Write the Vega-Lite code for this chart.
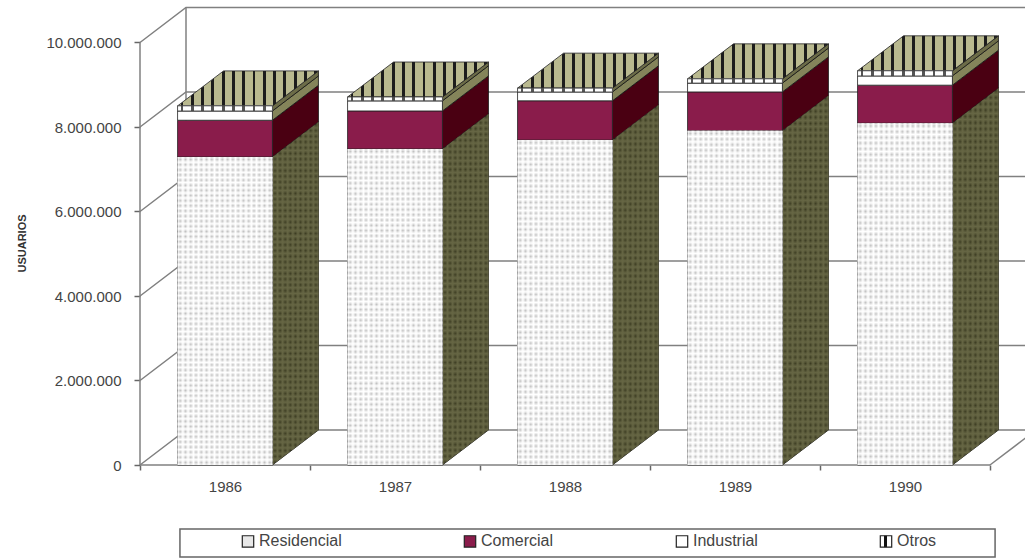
{
"$schema":"https://vega.github.io/schema/vega-lite/v6.json",
"width":885,"height":465,
"autosize":{"type":"none"},
"padding":{"left":140,"top":0,"right":0,"bottom":94},
"background":"#ffffff",
"config":{"view":{"stroke":null},"font":"Liberation Sans"},
"resolve":{"axis":{"x":"independent","y":"independent"}},
"datasets":{
"usuarios":[
{"anio":1986,"serie":"Residencial","orden":1,"usuarios":7290000},
{"anio":1986,"serie":"Comercial","orden":2,"usuarios":870000},
{"anio":1986,"serie":"Industrial","orden":3,"usuarios":220000},
{"anio":1986,"serie":"Otros","orden":4,"usuarios":120000},
{"anio":1987,"serie":"Residencial","orden":1,"usuarios":7480000},
{"anio":1987,"serie":"Comercial","orden":2,"usuarios":900000},
{"anio":1987,"serie":"Industrial","orden":3,"usuarios":240000},
{"anio":1987,"serie":"Otros","orden":4,"usuarios":90000},
{"anio":1988,"serie":"Residencial","orden":1,"usuarios":7690000},
{"anio":1988,"serie":"Comercial","orden":2,"usuarios":930000},
{"anio":1988,"serie":"Industrial","orden":3,"usuarios":210000},
{"anio":1988,"serie":"Otros","orden":4,"usuarios":90000},
{"anio":1989,"serie":"Residencial","orden":1,"usuarios":7910000},
{"anio":1989,"serie":"Comercial","orden":2,"usuarios":920000},
{"anio":1989,"serie":"Industrial","orden":3,"usuarios":210000},
{"anio":1989,"serie":"Otros","orden":4,"usuarios":100000},
{"anio":1990,"serie":"Residencial","orden":1,"usuarios":8090000},
{"anio":1990,"serie":"Comercial","orden":2,"usuarios":900000},
{"anio":1990,"serie":"Industrial","orden":3,"usuarios":220000},
{"anio":1990,"serie":"Otros","orden":4,"usuarios":120000}
],
"rejilla":[{"valor":0},{"valor":2000000},{"valor":4000000},{"valor":6000000},{"valor":8000000},{"valor":10000000}]
},
"layer":[
{"data":{"name":"rejilla"},
"transform":[
{"calculate":"[0,1,2]","as":"p"},{"flatten":["p"]},
{"calculate":"datum.p==0?1985.5:(datum.p==1?1985.7706:1990.7706)","as":"xg"},
{"calculate":"datum.valor+(datum.p>0?828000:0)","as":"yg"}],
"mark":{"type":"line","color":"#808080","strokeWidth":1.5,"clip":false},
"encoding":{
"x":{"field":"xg","type":"quantitative","scale":{"domain":[1985.5,1990.706],"nice":false,"zero":false},
"axis":{"values":[1985.5,1986,1986.5,1987,1987.5,1988,1988.5,1989,1989.5,1990,1990.5],"title":null,"domain":false,"grid":false,"tickSize":5,"tickColor":"#666666","tickWidth":1.5,
"tickOpacity":{"condition":{"test":"datum.value%1!=0","value":1},"value":0},
"labelExpr":"datum.value%1==0?format(datum.value,'d'):''","labelFont":"Liberation Sans","labelFontSize":15,"labelColor":"#444444","labelPadding":9,"labelOverlap":false,"labelFlush":false}},
"y":{"field":"yg","type":"quantitative","scale":{"domain":[0,11005917],"nice":false,"zero":false},
"axis":{"values":[0,2000000,4000000,6000000,8000000,10000000],"title":"USUARIOS","titleFont":"Liberation Sans","titleFontSize":11,"titleFontWeight":"bold","titleColor":"#333333","titleX":-113,"titleY":243,"domain":false,"grid":false,"tickSize":6,"tickColor":"#666666","tickWidth":1.5,
"labelExpr":"replace(format(datum.value,','),/,/g,'.')","labelFont":"Liberation Sans","labelFontSize":15,"labelColor":"#444444","labelPadding":13,"labelOverlap":false}},
"detail":{"field":"valor"},
"order":{"field":"p"}}},
{"data":{"values":[{}]},"mark":{"type":"rule","color":"#808080","strokeWidth":1.5},
"encoding":{"x":{"datum":1985.5,"type":"quantitative","scale":{"domain":[1985.5,1990.706],"nice":false,"zero":false},"axis":null},"y":{"datum":0,"type":"quantitative","scale":{"domain":[0,11005917],"nice":false,"zero":false},"axis":null},"y2":{"datum":10000000}}},
{"data":{"values":[{}]},"mark":{"type":"rule","color":"#808080","strokeWidth":1.5},
"encoding":{"x":{"datum":1985.7706,"type":"quantitative","scale":{"domain":[1985.5,1990.706],"nice":false,"zero":false},"axis":null},"y":{"datum":828000,"type":"quantitative","scale":{"domain":[0,11005917],"nice":false,"zero":false},"axis":null},"y2":{"datum":10828000}}},
{"data":{"values":[{}]},"mark":{"type":"rule","color":"#808080","strokeWidth":1.5},
"encoding":{"x":{"datum":1985.5,"type":"quantitative","scale":{"domain":[1985.5,1990.706],"nice":false,"zero":false},"axis":null},"x2":{"datum":1990.5},"y":{"datum":0,"type":"quantitative","scale":{"domain":[0,11005917],"nice":false,"zero":false},"axis":null}}},
{"data":{"values":[{}]},"mark":{"type":"rule","color":"#808080","strokeWidth":1.5},
"encoding":{"x":{"datum":1990.5,"type":"quantitative","scale":{"domain":[1985.5,1990.706],"nice":false,"zero":false},"axis":null},"x2":{"datum":1990.7706},"y":{"datum":0,"type":"quantitative","scale":{"domain":[0,11005917],"nice":false,"zero":false},"axis":null},"y2":{"datum":828000}}},
{"data":{"values":[{}]},"mark":{"type":"rect","filled":false,"stroke":"#666666","strokeWidth":1.5},
"encoding":{"x":{"datum":1985.735,"type":"quantitative","scale":{"domain":[1985.5,1990.706],"nice":false,"zero":false},"axis":null},"x2":{"datum":1990.53},"y":{"datum":-1515000,"type":"quantitative","scale":{"domain":[0,11005917],"nice":false,"zero":false},"axis":null},"y2":{"datum":-2178000}}},
{"data":{"name":"usuarios"},
"transform":[{"stack":"usuarios","groupby":["anio"],"sort":[{"field":"orden","order":"ascending"}],"as":["y0","y1"]}],
"layer":[
{"transform":[
{"calculate":"[0,1]","as":"lado"},{"flatten":["lado"]},
{"calculate":"datum.anio+0.279+datum.lado*0.2706","as":"xs"},
{"calculate":"datum.y0+datum.lado*828000","as":"ys0"},
{"calculate":"datum.y1+datum.lado*828000","as":"ys1"}],
"layer":[
{"mark":{"type":"area","orient":"vertical","stroke":"#111111","strokeWidth":0.8},
"encoding":{
"x":{"field":"xs","type":"quantitative","scale":{"domain":[1985.5,1990.706],"nice":false,"zero":false},"axis":null},
"y":{"field":"ys0","type":"quantitative","stack":null,"scale":{"domain":[0,11005917],"nice":false,"zero":false},"axis":null},
"y2":{"field":"ys1"},
"detail":[{"field":"anio"},{"field":"serie"}],
"fill":{"field":"serie","type":"nominal","legend":null,"scale":{"domain":["Otros","Industrial","Comercial","Residencial"],"range":["#6c6c48","#84845a","#4a0012","#3c3c22"]}}}},
{"transform":[{"filter":"datum.serie=='Residencial'"}],
"mark":{"type":"area","orient":"vertical",
"fill":{"gradient":"linear","x1":0,"y1":0,"x2":1,"y2":0,"stops":[
{"offset":0,"color":"#664"},{"offset":0.056,"color":"#6640"},{"offset":0.111,"color":"#664"},{"offset":0.167,"color":"#6640"},{"offset":0.222,"color":"#664"},{"offset":0.278,"color":"#6640"},{"offset":0.333,"color":"#664"},{"offset":0.389,"color":"#6640"},{"offset":0.444,"color":"#664"},{"offset":0.5,"color":"#6640"},{"offset":0.556,"color":"#664"},{"offset":0.611,"color":"#6640"},{"offset":0.667,"color":"#664"},{"offset":0.722,"color":"#6640"},{"offset":0.778,"color":"#664"},{"offset":0.833,"color":"#6640"},{"offset":0.889,"color":"#664"},{"offset":0.944,"color":"#6640"},{"offset":1,"color":"#664"}]}},
"encoding":{
"x":{"field":"xs","type":"quantitative","scale":{"domain":[1985.5,1990.706],"nice":false,"zero":false},"axis":null},
"y":{"field":"ys0","type":"quantitative","stack":null,"scale":{"domain":[0,11005917],"nice":false,"zero":false},"axis":null},
"y2":{"field":"ys1"},
"detail":{"field":"anio"}}},
{"transform":[{"filter":"datum.serie=='Residencial'"}],
"mark":{"type":"area","orient":"vertical",
"fill":{"gradient":"linear","x1":0,"y1":0,"x2":0,"y2":1,"stops":[
{"offset":0,"color":"#664"},{"offset":0.008,"color":"#6640"},{"offset":0.017,"color":"#664"},{"offset":0.025,"color":"#6640"},{"offset":0.033,"color":"#664"},{"offset":0.042,"color":"#6640"},{"offset":0.05,"color":"#664"},{"offset":0.058,"color":"#6640"},{"offset":0.067,"color":"#664"},{"offset":0.075,"color":"#6640"},{"offset":0.083,"color":"#664"},{"offset":0.092,"color":"#6640"},{"offset":0.1,"color":"#664"},{"offset":0.108,"color":"#6640"},{"offset":0.117,"color":"#664"},{"offset":0.125,"color":"#6640"},{"offset":0.133,"color":"#664"},{"offset":0.142,"color":"#6640"},{"offset":0.15,"color":"#664"},{"offset":0.158,"color":"#6640"},{"offset":0.167,"color":"#664"},{"offset":0.175,"color":"#6640"},{"offset":0.183,"color":"#664"},{"offset":0.192,"color":"#6640"},{"offset":0.2,"color":"#664"},{"offset":0.208,"color":"#6640"},{"offset":0.217,"color":"#664"},{"offset":0.225,"color":"#6640"},{"offset":0.233,"color":"#664"},{"offset":0.242,"color":"#6640"},{"offset":0.25,"color":"#664"},{"offset":0.258,"color":"#6640"},{"offset":0.267,"color":"#664"},{"offset":0.275,"color":"#6640"},{"offset":0.283,"color":"#664"},{"offset":0.292,"color":"#6640"},{"offset":0.3,"color":"#664"},{"offset":0.308,"color":"#6640"},{"offset":0.317,"color":"#664"},{"offset":0.325,"color":"#6640"},{"offset":0.333,"color":"#664"},{"offset":0.342,"color":"#6640"},{"offset":0.35,"color":"#664"},{"offset":0.358,"color":"#6640"},{"offset":0.367,"color":"#664"},{"offset":0.375,"color":"#6640"},{"offset":0.383,"color":"#664"},{"offset":0.392,"color":"#6640"},{"offset":0.4,"color":"#664"},{"offset":0.408,"color":"#6640"},{"offset":0.417,"color":"#664"},{"offset":0.425,"color":"#6640"},{"offset":0.433,"color":"#664"},{"offset":0.442,"color":"#6640"},{"offset":0.45,"color":"#664"},{"offset":0.458,"color":"#6640"},{"offset":0.467,"color":"#664"},{"offset":0.475,"color":"#6640"},{"offset":0.483,"color":"#664"},{"offset":0.492,"color":"#6640"},{"offset":0.5,"color":"#664"},{"offset":0.508,"color":"#6640"},{"offset":0.517,"color":"#664"},{"offset":0.525,"color":"#6640"},{"offset":0.533,"color":"#664"},{"offset":0.542,"color":"#6640"},{"offset":0.55,"color":"#664"},{"offset":0.558,"color":"#6640"},{"offset":0.567,"color":"#664"},{"offset":0.575,"color":"#6640"},{"offset":0.583,"color":"#664"},{"offset":0.592,"color":"#6640"},{"offset":0.6,"color":"#664"},{"offset":0.608,"color":"#6640"},{"offset":0.617,"color":"#664"},{"offset":0.625,"color":"#6640"},{"offset":0.633,"color":"#664"},{"offset":0.642,"color":"#6640"},{"offset":0.65,"color":"#664"},{"offset":0.658,"color":"#6640"},{"offset":0.667,"color":"#664"},{"offset":0.675,"color":"#6640"},{"offset":0.683,"color":"#664"},{"offset":0.692,"color":"#6640"},{"offset":0.7,"color":"#664"},{"offset":0.708,"color":"#6640"},{"offset":0.717,"color":"#664"},{"offset":0.725,"color":"#6640"},{"offset":0.733,"color":"#664"},{"offset":0.742,"color":"#6640"},{"offset":0.75,"color":"#664"},{"offset":0.758,"color":"#6640"},{"offset":0.767,"color":"#664"},{"offset":0.775,"color":"#6640"},{"offset":0.783,"color":"#664"},{"offset":0.792,"color":"#6640"},{"offset":0.8,"color":"#664"},{"offset":0.808,"color":"#6640"},{"offset":0.817,"color":"#664"},{"offset":0.825,"color":"#6640"},{"offset":0.833,"color":"#664"},{"offset":0.842,"color":"#6640"},{"offset":0.85,"color":"#664"},{"offset":0.858,"color":"#6640"},{"offset":0.867,"color":"#664"},{"offset":0.875,"color":"#6640"},{"offset":0.883,"color":"#664"},{"offset":0.892,"color":"#6640"},{"offset":0.9,"color":"#664"},{"offset":0.908,"color":"#6640"},{"offset":0.917,"color":"#664"},{"offset":0.925,"color":"#6640"},{"offset":0.933,"color":"#664"},{"offset":0.942,"color":"#6640"},{"offset":0.95,"color":"#664"},{"offset":0.958,"color":"#6640"},{"offset":0.967,"color":"#664"},{"offset":0.975,"color":"#6640"},{"offset":0.983,"color":"#664"},{"offset":0.992,"color":"#6640"},{"offset":1,"color":"#664"}]}},
"encoding":{
"x":{"field":"xs","type":"quantitative","scale":{"domain":[1985.5,1990.706],"nice":false,"zero":false},"axis":null},
"y":{"field":"ys0","type":"quantitative","stack":null,"scale":{"domain":[0,11005917],"nice":false,"zero":false},"axis":null},
"y2":{"field":"ys1"},
"detail":{"field":"anio"}}}
]},
{"transform":[
{"filter":"datum.serie=='Otros'"},
{"calculate":"[0,1]","as":"lado"},{"flatten":["lado"]},
{"calculate":"datum.anio-0.279+datum.lado*0.2706","as":"xa"},
{"calculate":"datum.anio+0.279+datum.lado*0.2706","as":"xb"},
{"calculate":"datum.y1+datum.lado*828000","as":"ya"}],
"mark":{"type":"area","orient":"horizontal","stroke":"#222222","strokeWidth":0.8,
"fill":{"gradient":"linear","x1":0,"y1":0,"x2":1,"y2":0,"stops":[
{"offset":0,"color":"#b9b98f"},
{"offset":0.021,"color":"#b9b98f"},{"offset":0.021,"color":"#1c1c1c"},{"offset":0.042,"color":"#1c1c1c"},{"offset":0.042,"color":"#b9b98f"},
{"offset":0.094,"color":"#b9b98f"},{"offset":0.094,"color":"#1c1c1c"},{"offset":0.115,"color":"#1c1c1c"},{"offset":0.115,"color":"#b9b98f"},
{"offset":0.167,"color":"#b9b98f"},{"offset":0.167,"color":"#1c1c1c"},{"offset":0.188,"color":"#1c1c1c"},{"offset":0.188,"color":"#b9b98f"},
{"offset":0.240,"color":"#b9b98f"},{"offset":0.240,"color":"#1c1c1c"},{"offset":0.261,"color":"#1c1c1c"},{"offset":0.261,"color":"#b9b98f"},
{"offset":0.313,"color":"#b9b98f"},{"offset":0.313,"color":"#1c1c1c"},{"offset":0.334,"color":"#1c1c1c"},{"offset":0.334,"color":"#b9b98f"},
{"offset":0.386,"color":"#b9b98f"},{"offset":0.386,"color":"#1c1c1c"},{"offset":0.407,"color":"#1c1c1c"},{"offset":0.407,"color":"#b9b98f"},
{"offset":0.459,"color":"#b9b98f"},{"offset":0.459,"color":"#1c1c1c"},{"offset":0.480,"color":"#1c1c1c"},{"offset":0.480,"color":"#b9b98f"},
{"offset":0.532,"color":"#b9b98f"},{"offset":0.532,"color":"#1c1c1c"},{"offset":0.553,"color":"#1c1c1c"},{"offset":0.553,"color":"#b9b98f"},
{"offset":0.605,"color":"#b9b98f"},{"offset":0.605,"color":"#1c1c1c"},{"offset":0.626,"color":"#1c1c1c"},{"offset":0.626,"color":"#b9b98f"},
{"offset":0.678,"color":"#b9b98f"},{"offset":0.678,"color":"#1c1c1c"},{"offset":0.699,"color":"#1c1c1c"},{"offset":0.699,"color":"#b9b98f"},
{"offset":0.751,"color":"#b9b98f"},{"offset":0.751,"color":"#1c1c1c"},{"offset":0.772,"color":"#1c1c1c"},{"offset":0.772,"color":"#b9b98f"},
{"offset":0.824,"color":"#b9b98f"},{"offset":0.824,"color":"#1c1c1c"},{"offset":0.845,"color":"#1c1c1c"},{"offset":0.845,"color":"#b9b98f"},
{"offset":0.897,"color":"#b9b98f"},{"offset":0.897,"color":"#1c1c1c"},{"offset":0.918,"color":"#1c1c1c"},{"offset":0.918,"color":"#b9b98f"},
{"offset":0.970,"color":"#b9b98f"},{"offset":0.970,"color":"#1c1c1c"},{"offset":0.991,"color":"#1c1c1c"},{"offset":0.991,"color":"#b9b98f"},
{"offset":1,"color":"#b9b98f"}]}},
"encoding":{
"x":{"field":"xa","type":"quantitative","scale":{"domain":[1985.5,1990.706],"nice":false,"zero":false},"axis":null},
"x2":{"field":"xb"},
"y":{"field":"ya","type":"quantitative","stack":null,"scale":{"domain":[0,11005917],"nice":false,"zero":false},"axis":null},
"detail":{"field":"anio"}}},
{"transform":[
{"calculate":"datum.anio-0.279","as":"xf0"},
{"calculate":"datum.anio+0.279","as":"xf1"}],
"layer":[
{"mark":{"type":"rect","strokeWidth":0.8},
"encoding":{
"x":{"field":"xf0","type":"quantitative","scale":{"domain":[1985.5,1990.706],"nice":false,"zero":false},"axis":null},
"x2":{"field":"xf1"},
"y":{"field":"y0","type":"quantitative","stack":null,"scale":{"domain":[0,11005917],"nice":false,"zero":false},"axis":null},
"y2":{"field":"y1"},
"color":{"field":"serie","type":"nominal","legend":null,
"scale":{"domain":["Comercial","Residencial","Industrial","Otros"],"range":["#8a1c4b","#c0c0c0","#ffffff","#ffffff"]}},
"stroke":{"field":"serie","type":"nominal",
"scale":{"domain":["Residencial","Comercial","Industrial","Otros"],"range":["#222222","#222222","#222222","#222222"]},
"legend":{"title":null,"orient":"none","legendX":100,"legendY":533,"zindex":1,"direction":"horizontal","columns":4,"columnPadding":119,"symbolType":"square","symbolSize":130,"labelFont":"Liberation Sans","labelFontSize":16,"labelColor":"#444444","labelOffset":3,"padding":0,
"encoding":{"symbols":{"strokeWidth":{"value":1.2},"fill":{"value":{"expr":"datum.value=='Otros'?{gradient:'linear',x1:0,y1:0,x2:1,y2:0,stops:[{offset:0,color:'#ffffff'},{offset:0.33,color:'#ffffff'},{offset:0.33,color:'#111111'},{offset:0.62,color:'#111111'},{offset:0.62,color:'#ffffff'},{offset:1,color:'#ffffff'}]}:(datum.value=='Residencial'?'#e8e8e8':(datum.value=='Comercial'?'#8a1c4b':'#ffffff'))"}}}}}}}},
{"transform":[{"filter":"datum.serie=='Residencial'"}],
"mark":{"type":"rect",
"fill":{"gradient":"linear","x1":0,"y1":0,"x2":1,"y2":0,"stops":[
{"offset":0,"color":"#fff"},{"offset":0.028,"color":"#fff0"},{"offset":0.056,"color":"#fff"},{"offset":0.083,"color":"#fff0"},{"offset":0.111,"color":"#fff"},{"offset":0.139,"color":"#fff0"},{"offset":0.167,"color":"#fff"},{"offset":0.194,"color":"#fff0"},{"offset":0.222,"color":"#fff"},{"offset":0.25,"color":"#fff0"},{"offset":0.278,"color":"#fff"},{"offset":0.306,"color":"#fff0"},{"offset":0.333,"color":"#fff"},{"offset":0.361,"color":"#fff0"},{"offset":0.389,"color":"#fff"},{"offset":0.417,"color":"#fff0"},{"offset":0.444,"color":"#fff"},{"offset":0.472,"color":"#fff0"},{"offset":0.5,"color":"#fff"},{"offset":0.528,"color":"#fff0"},{"offset":0.556,"color":"#fff"},{"offset":0.583,"color":"#fff0"},{"offset":0.611,"color":"#fff"},{"offset":0.639,"color":"#fff0"},{"offset":0.667,"color":"#fff"},{"offset":0.694,"color":"#fff0"},{"offset":0.722,"color":"#fff"},{"offset":0.75,"color":"#fff0"},{"offset":0.778,"color":"#fff"},{"offset":0.806,"color":"#fff0"},{"offset":0.833,"color":"#fff"},{"offset":0.861,"color":"#fff0"},{"offset":0.889,"color":"#fff"},{"offset":0.917,"color":"#fff0"},{"offset":0.944,"color":"#fff"},{"offset":0.972,"color":"#fff0"},{"offset":1,"color":"#fff"}]}},
"encoding":{
"x":{"field":"xf0","type":"quantitative","scale":{"domain":[1985.5,1990.706],"nice":false,"zero":false},"axis":null},
"x2":{"field":"xf1"},
"y":{"field":"y0","type":"quantitative","stack":null,"scale":{"domain":[0,11005917],"nice":false,"zero":false},"axis":null},
"y2":{"field":"y1"}}},
{"transform":[{"filter":"datum.serie=='Residencial'"}],
"mark":{"type":"rect",
"fill":{"gradient":"linear","x1":0,"y1":0,"x2":0,"y2":1,"stops":[
{"offset":0,"color":"#fff"},{"offset":0.008,"color":"#fff0"},{"offset":0.017,"color":"#fff"},{"offset":0.025,"color":"#fff0"},{"offset":0.033,"color":"#fff"},{"offset":0.042,"color":"#fff0"},{"offset":0.05,"color":"#fff"},{"offset":0.058,"color":"#fff0"},{"offset":0.067,"color":"#fff"},{"offset":0.075,"color":"#fff0"},{"offset":0.083,"color":"#fff"},{"offset":0.092,"color":"#fff0"},{"offset":0.1,"color":"#fff"},{"offset":0.108,"color":"#fff0"},{"offset":0.117,"color":"#fff"},{"offset":0.125,"color":"#fff0"},{"offset":0.133,"color":"#fff"},{"offset":0.142,"color":"#fff0"},{"offset":0.15,"color":"#fff"},{"offset":0.158,"color":"#fff0"},{"offset":0.167,"color":"#fff"},{"offset":0.175,"color":"#fff0"},{"offset":0.183,"color":"#fff"},{"offset":0.192,"color":"#fff0"},{"offset":0.2,"color":"#fff"},{"offset":0.208,"color":"#fff0"},{"offset":0.217,"color":"#fff"},{"offset":0.225,"color":"#fff0"},{"offset":0.233,"color":"#fff"},{"offset":0.242,"color":"#fff0"},{"offset":0.25,"color":"#fff"},{"offset":0.258,"color":"#fff0"},{"offset":0.267,"color":"#fff"},{"offset":0.275,"color":"#fff0"},{"offset":0.283,"color":"#fff"},{"offset":0.292,"color":"#fff0"},{"offset":0.3,"color":"#fff"},{"offset":0.308,"color":"#fff0"},{"offset":0.317,"color":"#fff"},{"offset":0.325,"color":"#fff0"},{"offset":0.333,"color":"#fff"},{"offset":0.342,"color":"#fff0"},{"offset":0.35,"color":"#fff"},{"offset":0.358,"color":"#fff0"},{"offset":0.367,"color":"#fff"},{"offset":0.375,"color":"#fff0"},{"offset":0.383,"color":"#fff"},{"offset":0.392,"color":"#fff0"},{"offset":0.4,"color":"#fff"},{"offset":0.408,"color":"#fff0"},{"offset":0.417,"color":"#fff"},{"offset":0.425,"color":"#fff0"},{"offset":0.433,"color":"#fff"},{"offset":0.442,"color":"#fff0"},{"offset":0.45,"color":"#fff"},{"offset":0.458,"color":"#fff0"},{"offset":0.467,"color":"#fff"},{"offset":0.475,"color":"#fff0"},{"offset":0.483,"color":"#fff"},{"offset":0.492,"color":"#fff0"},{"offset":0.5,"color":"#fff"},{"offset":0.508,"color":"#fff0"},{"offset":0.517,"color":"#fff"},{"offset":0.525,"color":"#fff0"},{"offset":0.533,"color":"#fff"},{"offset":0.542,"color":"#fff0"},{"offset":0.55,"color":"#fff"},{"offset":0.558,"color":"#fff0"},{"offset":0.567,"color":"#fff"},{"offset":0.575,"color":"#fff0"},{"offset":0.583,"color":"#fff"},{"offset":0.592,"color":"#fff0"},{"offset":0.6,"color":"#fff"},{"offset":0.608,"color":"#fff0"},{"offset":0.617,"color":"#fff"},{"offset":0.625,"color":"#fff0"},{"offset":0.633,"color":"#fff"},{"offset":0.642,"color":"#fff0"},{"offset":0.65,"color":"#fff"},{"offset":0.658,"color":"#fff0"},{"offset":0.667,"color":"#fff"},{"offset":0.675,"color":"#fff0"},{"offset":0.683,"color":"#fff"},{"offset":0.692,"color":"#fff0"},{"offset":0.7,"color":"#fff"},{"offset":0.708,"color":"#fff0"},{"offset":0.717,"color":"#fff"},{"offset":0.725,"color":"#fff0"},{"offset":0.733,"color":"#fff"},{"offset":0.742,"color":"#fff0"},{"offset":0.75,"color":"#fff"},{"offset":0.758,"color":"#fff0"},{"offset":0.767,"color":"#fff"},{"offset":0.775,"color":"#fff0"},{"offset":0.783,"color":"#fff"},{"offset":0.792,"color":"#fff0"},{"offset":0.8,"color":"#fff"},{"offset":0.808,"color":"#fff0"},{"offset":0.817,"color":"#fff"},{"offset":0.825,"color":"#fff0"},{"offset":0.833,"color":"#fff"},{"offset":0.842,"color":"#fff0"},{"offset":0.85,"color":"#fff"},{"offset":0.858,"color":"#fff0"},{"offset":0.867,"color":"#fff"},{"offset":0.875,"color":"#fff0"},{"offset":0.883,"color":"#fff"},{"offset":0.892,"color":"#fff0"},{"offset":0.9,"color":"#fff"},{"offset":0.908,"color":"#fff0"},{"offset":0.917,"color":"#fff"},{"offset":0.925,"color":"#fff0"},{"offset":0.933,"color":"#fff"},{"offset":0.942,"color":"#fff0"},{"offset":0.95,"color":"#fff"},{"offset":0.958,"color":"#fff0"},{"offset":0.967,"color":"#fff"},{"offset":0.975,"color":"#fff0"},{"offset":0.983,"color":"#fff"},{"offset":0.992,"color":"#fff0"},{"offset":1,"color":"#fff"}]}},
"encoding":{
"x":{"field":"xf0","type":"quantitative","scale":{"domain":[1985.5,1990.706],"nice":false,"zero":false},"axis":null},
"x2":{"field":"xf1"},
"y":{"field":"y0","type":"quantitative","stack":null,"scale":{"domain":[0,11005917],"nice":false,"zero":false},"axis":null},
"y2":{"field":"y1"}}},
{"transform":[{"filter":"datum.serie=='Otros'"}],
"mark":{"type":"rect","stroke":"#444444","strokeWidth":0.8,
"fill":{"gradient":"linear","x1":0,"y1":0,"x2":1,"y2":0,"stops":[
{"offset":0,"color":"#ffffff"},
{"offset":0.032,"color":"#ffffff"},{"offset":0.032,"color":"#555555"},{"offset":0.062,"color":"#555555"},{"offset":0.062,"color":"#ffffff"},
{"offset":0.140,"color":"#ffffff"},{"offset":0.140,"color":"#555555"},{"offset":0.170,"color":"#555555"},{"offset":0.170,"color":"#ffffff"},
{"offset":0.249,"color":"#ffffff"},{"offset":0.249,"color":"#555555"},{"offset":0.279,"color":"#555555"},{"offset":0.279,"color":"#ffffff"},
{"offset":0.357,"color":"#ffffff"},{"offset":0.357,"color":"#555555"},{"offset":0.387,"color":"#555555"},{"offset":0.387,"color":"#ffffff"},
{"offset":0.465,"color":"#ffffff"},{"offset":0.465,"color":"#555555"},{"offset":0.495,"color":"#555555"},{"offset":0.495,"color":"#ffffff"},
{"offset":0.574,"color":"#ffffff"},{"offset":0.574,"color":"#555555"},{"offset":0.604,"color":"#555555"},{"offset":0.604,"color":"#ffffff"},
{"offset":0.682,"color":"#ffffff"},{"offset":0.682,"color":"#555555"},{"offset":0.712,"color":"#555555"},{"offset":0.712,"color":"#ffffff"},
{"offset":0.791,"color":"#ffffff"},{"offset":0.791,"color":"#555555"},{"offset":0.821,"color":"#555555"},{"offset":0.821,"color":"#ffffff"},
{"offset":0.899,"color":"#ffffff"},{"offset":0.899,"color":"#555555"},{"offset":0.929,"color":"#555555"},{"offset":0.929,"color":"#ffffff"},
{"offset":1,"color":"#ffffff"}]}},
"encoding":{
"x":{"field":"xf0","type":"quantitative","scale":{"domain":[1985.5,1990.706],"nice":false,"zero":false},"axis":null},
"x2":{"field":"xf1"},
"y":{"field":"y0","type":"quantitative","stack":null,"scale":{"domain":[0,11005917],"nice":false,"zero":false},"axis":null},
"y2":{"field":"y1"}}}
]}
]}
]}
